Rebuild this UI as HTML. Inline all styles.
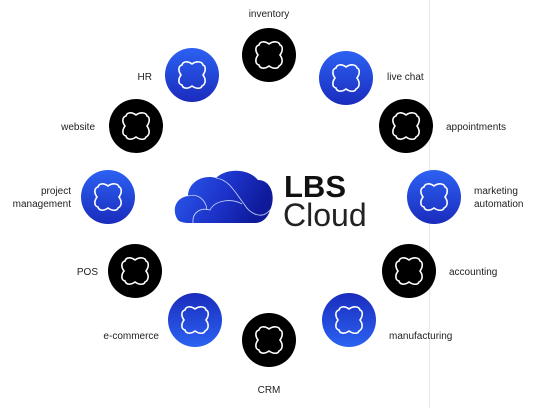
<!DOCTYPE html>
<html><head><meta charset="utf-8"><style>
html,body{margin:0;padding:0;background:#fff;}
body{width:535px;height:408px;overflow:hidden;}
text{font-family:"Liberation Sans",sans-serif;font-size:10px;fill:#222;}
</style></head><body>
<svg width="535" height="408" viewBox="0 0 535 408" xmlns="http://www.w3.org/2000/svg">
<defs>
<linearGradient id="gd" x1="0" y1="0" x2="0" y2="1"><stop offset="0" stop-color="#2c62f2"/><stop offset="1" stop-color="#1a2cbd"/></linearGradient>
<linearGradient id="gu" x1="0" y1="1" x2="0" y2="0"><stop offset="0" stop-color="#2c62f2"/><stop offset="1" stop-color="#1a2cbd"/></linearGradient>
<linearGradient id="cl" x1="0" y1="0" x2="1" y2="0.3"><stop offset="0" stop-color="#2c5cf0"/><stop offset="0.6" stop-color="#1c32c8"/><stop offset="1" stop-color="#0e1a9a"/></linearGradient>
<path id="blob" d="M0,-11 C4,-14 10,-14 11,-10 C14,-9 14,-4 11,0 C14,4 14,9 10,11 C9,14 4,14 0,11 C-4,14 -9,14 -10,10 C-14,9 -14,4 -11,0 C-14,-4 -14,-9 -10,-10 C-9,-14 -4,-14 0,-11 Z" fill="none" stroke="#fff" stroke-width="1.6"/>
</defs>
<line x1="429.5" y1="0" x2="429.5" y2="408" stroke="#e6e6e6" stroke-width="1"/>
<g>
<circle cx="269" cy="55" r="27" fill="#000"/><use href="#blob" x="269" y="55"/>
<circle cx="346" cy="78" r="27" fill="url(#gd)"/><use href="#blob" x="346" y="78"/>
<circle cx="406" cy="126" r="27" fill="#000"/><use href="#blob" x="406" y="126"/>
<circle cx="434" cy="197" r="27" fill="url(#gd)"/><use href="#blob" x="434" y="197"/>
<circle cx="409" cy="271" r="27" fill="#000"/><use href="#blob" x="409" y="271"/>
<circle cx="349" cy="320" r="27" fill="url(#gu)"/><use href="#blob" x="349" y="320"/>
<circle cx="269" cy="340" r="27" fill="#000"/><use href="#blob" x="269" y="340"/>
<circle cx="195" cy="320" r="27" fill="url(#gu)"/><use href="#blob" x="195" y="320"/>
<circle cx="135" cy="271" r="27" fill="#000"/><use href="#blob" x="135" y="271"/>
<circle cx="108" cy="197" r="27" fill="url(#gd)"/><use href="#blob" x="108" y="197"/>
<circle cx="136" cy="126" r="27" fill="#000"/><use href="#blob" x="136" y="126"/>
<circle cx="192" cy="75" r="27" fill="url(#gd)"/><use href="#blob" x="192" y="75"/>
</g>
<text x="269" y="17" text-anchor="middle">inventory</text>
<text x="387" y="80">live chat</text>
<text x="446" y="130">appointments</text>
<text x="474" y="194">marketing</text>
<text x="474" y="207">automation</text>
<text x="449" y="275">accounting</text>
<text x="389" y="339">manufacturing</text>
<text x="269" y="393" text-anchor="middle">CRM</text>
<text x="159" y="339" text-anchor="end">e-commerce</text>
<text x="98" y="275" text-anchor="end">POS</text>
<text x="71" y="194" text-anchor="end">project</text>
<text x="71" y="207" text-anchor="end">management</text>
<text x="95" y="130" text-anchor="end">website</text>
<text x="152" y="80" text-anchor="end">HR</text>
<g>
<path d="M178,220 C172,212 174,198 188,196 C188,183 202,174 216,178 C226,168 248,168 258,180 C272,180 276,198 270,210 C268,218 262,223 255,223 L190,223 C184,223 180,222 178,220 Z" fill="url(#cl)"/>
<path d="M193,223 C192,213 200,207 210,210 C215,200 232,198 242,204" fill="none" stroke="#c8d4ff" stroke-width="0.8"/>
<path d="M188,196 C198,193 206,200 207,210" fill="none" stroke="#c8d4ff" stroke-width="0.8"/>
<path d="M216,178 C230,180 236,194 244,204 C250,214 262,220 270,210" fill="none" stroke="#c8d4ff" stroke-width="0.8"/>
<text x="284" y="197" style="font-size:31px;font-weight:bold;fill:#111;">LBS</text>
<text x="283" y="226" style="font-size:32px;fill:#222;">Cloud</text>
</g>
</svg>
</body></html>
